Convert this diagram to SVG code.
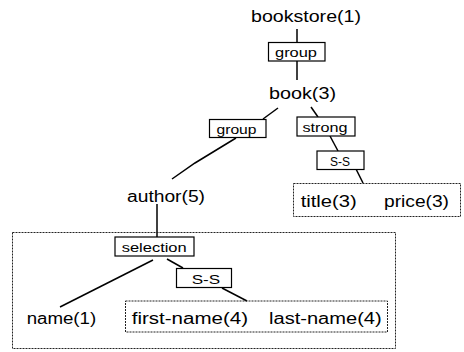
<svg xmlns="http://www.w3.org/2000/svg" width="464" height="352" viewBox="0 0 464 352">
<style>
text{font-family:"Liberation Sans",Arial,sans-serif;fill:#000}
.n{font-size:16px}
.l{font-size:13px}
.box{fill:#fff;stroke:#000;stroke-width:1.2}
.dot{fill:none;stroke:#222;stroke-width:1;stroke-dasharray:2 1}
.c{fill:none;stroke:#000;stroke-width:1.5}
</style>
<rect width="464" height="352" fill="#fff"/>
<g id="connectors">
<line class="c" x1="297" y1="29" x2="297" y2="42"/>
<line class="c" x1="297" y1="61" x2="297" y2="80"/>
<line class="c" x1="278" y1="108" x2="263" y2="119"/>
<line class="c" x1="311" y1="107" x2="318" y2="117"/>
<line class="c" x1="330" y1="136" x2="338" y2="151"/>
<line class="c" x1="356" y1="169" x2="363" y2="183"/>
<polyline class="c" points="236,138 195,163 172,179"/>
<line class="c" x1="157" y1="204" x2="157" y2="237"/>
<line class="c" x1="153" y1="260" x2="60" y2="307"/>
<line class="c" x1="167" y1="259" x2="183" y2="268"/>
<line class="c" x1="222" y1="288" x2="247" y2="301"/>
</g>
<g id="dotted-author">
<rect class="dot" x="12.5" y="232.5" width="383" height="116"/>
</g>
<g id="dotted-title-price">
<rect class="dot" x="293.5" y="183.5" width="167" height="33"/>
</g>
<g id="dotted-names">
<rect class="dot" x="125.5" y="301" width="262" height="31"/>
</g>
<g id="bookstore"><text class="n" x="251" y="21.5" textLength="110" lengthAdjust="spacingAndGlyphs">bookstore(1)</text></g>
<g id="group1"><rect class="box" x="268.5" y="42.5" width="56.5" height="18.5"/><text class="l" x="275" y="56.5" textLength="42" lengthAdjust="spacingAndGlyphs">group</text></g>
<g id="book"><text class="n" x="269" y="99" textLength="67" lengthAdjust="spacingAndGlyphs">book(3)</text></g>
<g id="group2"><rect class="box" x="209.5" y="119.5" width="56.5" height="18"/><text class="l" x="216.5" y="133.5" textLength="40" lengthAdjust="spacingAndGlyphs">group</text></g>
<g id="strong"><rect class="box" x="297" y="117" width="58" height="19"/><text class="l" x="302.5" y="131.5" textLength="45" lengthAdjust="spacingAndGlyphs">strong</text></g>
<g id="ss1"><rect class="box" x="317" y="151" width="47" height="18.5"/><text class="l" x="330" y="166" textLength="20" lengthAdjust="spacingAndGlyphs">S-S</text></g>
<g id="title"><text class="n" x="300.7" y="206.5" textLength="56" lengthAdjust="spacingAndGlyphs">title(3)</text></g>
<g id="price"><text class="n" x="384" y="206.5" textLength="65" lengthAdjust="spacingAndGlyphs">price(3)</text></g>
<g id="author"><text class="n" x="127" y="201.5" textLength="78" lengthAdjust="spacingAndGlyphs">author(5)</text></g>
<g id="selection"><rect class="box" x="115" y="237" width="79" height="19"/><text class="l" x="121.7" y="251.5" textLength="65" lengthAdjust="spacingAndGlyphs">selection</text></g>
<g id="ss2"><rect class="box" x="176.5" y="268.5" width="55" height="19"/><text class="l" x="191.7" y="284" textLength="28.5" lengthAdjust="spacingAndGlyphs">S-S</text></g>
<g id="name"><text class="n" x="26.7" y="324" textLength="69.5" lengthAdjust="spacingAndGlyphs">name(1)</text></g>
<g id="first-name"><text class="n" x="131.7" y="323.5" textLength="116.3" lengthAdjust="spacingAndGlyphs">first-name(4)</text></g>
<g id="last-name"><text class="n" x="269" y="323.5" textLength="112.7" lengthAdjust="spacingAndGlyphs">last-name(4)</text></g>
</svg>
